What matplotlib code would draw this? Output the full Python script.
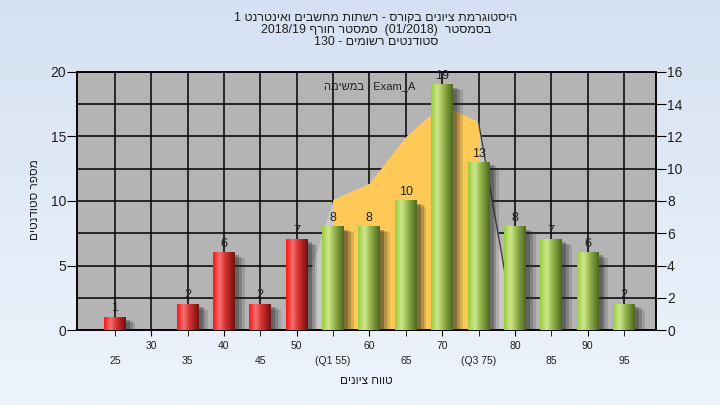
import numpy as np
import matplotlib
matplotlib.use("Agg")
import matplotlib.pyplot as plt
from matplotlib.colors import LinearSegmentedColormap
import matplotlib.patheffects as pe

plt.rcParams['font.family'] = ['Liberation Sans', 'DejaVu Sans']

# grade bins and number of students per bin
grades = [25, 30, 35, 40, 45, 50, 55, 60, 65, 70, 75, 80, 85, 90, 95]
counts = [1, 0, 2, 6, 2, 7, 8, 8, 10, 19, 13, 8, 7, 6, 2]
fail_limit = 50  # bars up to here are red

# normal curve (right axis)
curve_x = [50, 55, 60, 65, 70, 75, 80]
curve_y = [1.0, 8.1, 9.1, 12.0, 14.0, 12.9, 0.0]

top_ticks = [30, 40, 50, 60, 70, 80, 90]
top_labels = ['30', '40', '50', '60', '70', '80', '90']
low_ticks = [25, 35, 45, 55, 65, 75, 85, 95]
low_labels = ['25', '35', '45', '(Q1 55)', '65', '(Q3 75)', '85', '95']


def rtl(s):
    # put a Hebrew sentence in visual (left to right) order
    out = []
    for w in reversed(s.split(' ')):
        if any('\u0590' <= c <= '\u05ff' for c in w):
            w = w[::-1]
        out.append(w)
    return ' '.join(out)


title_lines = ["היסטוגרמת ציונים בקורס - רשתות מחשבים ואינטרנט 1",
               "בסמסטר  (01/2018)  סמסטר חורף 2018/19",
               "סטודנטים רשומים - 130"]

fig = plt.figure(figsize=(7.2, 4.05), dpi=100)

# light blue background gradient
bg = fig.add_axes([0, 0, 1, 1], zorder=-10)
bg_cmap = LinearSegmentedColormap.from_list("bg", ["#d5e1f2", "#eef4fc"])
bg.imshow(np.linspace(0, 1, 256).reshape(-1, 1), cmap=bg_cmap, aspect='auto',
          extent=[0, 1, 0, 1])
bg.axis('off')

# back axes: grid + curve on the right scale
ax = fig.add_axes([77 / 720, 1 - 330 / 405, 579 / 720, 258 / 405])
ax.set_facecolor('#b4b4b4')
ax.set_axisbelow(True)
ax.set_xlim(19.8, 99.4)
ax.set_ylim(0, 16)
ax.set_yticks(range(0, 17, 2))
ax.set_xticks(top_ticks)
ax.set_xticklabels(top_labels)
ax.set_xticks(low_ticks, minor=True)
ax.set_xticklabels(low_labels, minor=True)
ax.grid(True, which='both', axis='x', color='black', linewidth=1.1)
ax.grid(True, which='major', axis='y', color='black', linewidth=1.1)
ax.tick_params(axis='x', which='major', length=4, pad=4, labelsize=7.5, labelcolor='#202020')
ax.tick_params(axis='x', which='minor', length=4, pad=15, labelsize=7.5, labelcolor='#202020')

ax.fill_between(curve_x, curve_y, color='#c8c8c8', linewidth=0, zorder=1)
ax.fill_between(curve_x[1:6], curve_y[1:6], color='#fec957', linewidth=0, zorder=1.1)
ax.plot(curve_x[5:7], curve_y[5:7], color='#404040', linewidth=1.0, zorder=1.2)

# front axes: bars on the left scale
axb = ax.twinx()
ax.yaxis.tick_right()
ax.tick_params(axis='y', length=7, labelsize=10, labelcolor='#202020', pad=1)
axb.yaxis.tick_left()
axb.set_ylim(0, 20)
axb.set_yticks(range(0, 21, 5))
axb.tick_params(axis='y', length=7, labelsize=10, labelcolor='#202020', pad=1)
for a in (ax, axb):
    for sp in a.spines.values():
        sp.set_color('black')
        sp.set_linewidth(1.1)

red_cmap = LinearSegmentedColormap.from_list(
    "red", [(0, '#ff1414'), (0.3, '#f27070'), (0.55, '#dc3434'), (1, '#701010')])
green_cmap = LinearSegmentedColormap.from_list(
    "green", [(0, '#9ccd3a'), (0.3, '#cde78c'), (0.6, '#92b048'), (1, '#4c6820')])
grad = np.linspace(0, 1, 64).reshape(1, -1)

bars = axb.bar(grades, counts, width=3.0, color='#888888', zorder=3)
shadow = [pe.SimplePatchShadow(offset=(7, -4), shadow_rgbFace='#202020', alpha=0.15),
          pe.SimplePatchShadow(offset=(5, -3), shadow_rgbFace='#202020', alpha=0.22),
          pe.SimplePatchShadow(offset=(3, -2), shadow_rgbFace='#202020', alpha=0.3),
          pe.Normal()]
for g, c, rect in zip(grades, counts, bars):
    if c == 0:
        continue
    rect.set_path_effects(shadow)
    x0 = rect.get_x()
    cmap = red_cmap if g <= fail_limit else green_cmap
    axb.imshow(grad, cmap=cmap, aspect='auto', zorder=4,
               extent=[x0, x0 + rect.get_width(), 0, c])
    axb.annotate(str(c), (g, c), xytext=(0, 2), textcoords='offset points',
                 ha='center', va='bottom', fontsize=9, color='#202020', zorder=5)

axb.set_xlim(19.8, 99.4)
axb.set_ylim(0, 20)

axb.text(0.506, 0.946, "במשימה"[::-1] + " : Exam_A", transform=axb.transAxes,
         ha='center', va='center', fontsize=8, color='#202020')

fig.text(376 / 720, 1 - 12 / 405, "\n".join(rtl(t) for t in title_lines),
         ha='center', va='top', fontsize=8.9, linespacing=1.02, color='#202020')
fig.text(35 / 720, 1 - 200 / 405, rtl("מספר סטודנטים"), rotation=90,
         ha='center', va='center', fontsize=8.5, color='#202020')
fig.text(366 / 720, 1 - 381 / 405, rtl("טווח ציונים"),
         ha='center', va='center', fontsize=8.5, color='#202020')

fig.savefig("out.png", dpi=100)
